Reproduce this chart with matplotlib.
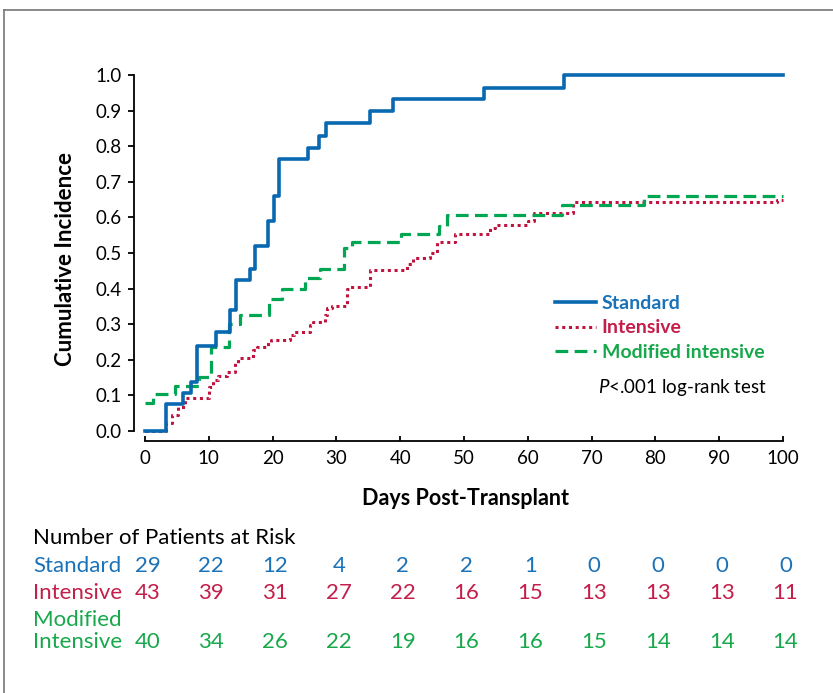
import matplotlib
matplotlib.use("Agg")
import matplotlib.pyplot as plt
from matplotlib.lines import Line2D
from matplotlib import transforms

plt.rcParams['font.family'] = ['Lato', 'DejaVu Sans']
plt.rcParams['mathtext.fontset'] = 'custom'
plt.rcParams['mathtext.it'] = 'Lato:italic'
plt.rcParams['mathtext.rm'] = 'Lato'

# ==========================
# Data
# ==========================
std_days = [0, 3.3, 6.0, 7.2, 8.2, 11.1, 13.4, 14.3, 16.4, 17.2, 19.3, 20.2, 21.0,
            25.6, 27.2, 28.4, 35.3, 38.8, 53.2, 65.6, 100]
std_vals = [0, 0.076, 0.107, 0.138, 0.24, 0.279, 0.34, 0.424, 0.455, 0.52, 0.59, 0.66, 0.763,
            0.794, 0.829, 0.864, 0.90, 0.933, 0.963, 1.0, 1.0]

int_days = [0, 3.3, 4.2, 5.2, 6.3, 10.0, 10.6, 11.5, 12.8, 14.1, 14.5, 17.0, 17.5, 19.3,
            19.7, 22.8, 23.3, 25.9, 26.4, 28.2, 28.6, 29.3, 31.6, 32.1, 35.3, 41.0, 42.0,
            44.7, 45.7, 48.6, 54.1, 54.9, 60.1, 60.9, 67.1, 99.0, 100]
int_vals = [0, 0.023, 0.045, 0.068, 0.094, 0.124, 0.143, 0.155, 0.167, 0.19, 0.204, 0.228,
            0.237, 0.251, 0.256, 0.27, 0.279, 0.298, 0.307, 0.326, 0.345, 0.351, 0.40, 0.404,
            0.452, 0.47, 0.485, 0.50, 0.532, 0.552, 0.569, 0.58, 0.59, 0.613, 0.644, 0.65, 0.65]

mod_days = [0, 1.3, 4.7, 8.4, 10.3, 13.1, 14.9, 19.4, 21.4, 25.1, 27.5, 31.2, 32.4, 40.1,
            46.1, 47.3, 65.3, 78.2, 100]
mod_vals = [0.078, 0.103, 0.126, 0.153, 0.237, 0.30, 0.326, 0.371, 0.398, 0.429, 0.455,
            0.514, 0.531, 0.553, 0.577, 0.607, 0.635, 0.66, 0.66]

risk_days = [0, 10, 20, 30, 40, 50, 60, 70, 80, 90, 100]
risk_std = [29, 22, 12, 4, 2, 2, 1, 0, 0, 0, 0]
risk_int = [43, 39, 31, 27, 22, 16, 15, 13, 13, 13, 11]
risk_mod = [40, 34, 26, 22, 19, 16, 16, 15, 14, 14, 14]

BLUE = "#0868b0"
RED = "#c0143e"
GREEN = "#00a651"
T_BLUE = "#1a72b8"
T_RED = "#c41e4a"
T_GREEN = "#17a84b"

W, H = 833, 693
fig = plt.figure(figsize=(W / 100, H / 100), dpi=100)
ax = fig.add_axes([145 / W, 1 - 431 / H, 638 / W, 356 / H])

# ==========================
# Curves
# ==========================
ax.step(int_days, int_vals, where="post", color=RED, lw=2.2,
        linestyle=(0, (1, 1.2)), dash_capstyle="butt", clip_on=False, label="Intensive")
ax.step(mod_days, mod_vals, where="post", color=GREEN, lw=2.3,
        linestyle=(0, (4, 2)), clip_on=False, label="Modified intensive")
ax.step(std_days, std_vals, where="post", color=BLUE, lw=2.6, clip_on=False,
        label="Standard")

ax.set_xlim(0, 100)
ax.set_ylim(0, 1.0)
ax.set_xticks(range(0, 101, 10))
ax.set_yticks([i / 10 for i in range(11)])
ax.set_yticklabels([f"{i / 10:.1f}" for i in range(11)])

for s in ["top", "right"]:
    ax.spines[s].set_visible(False)
ax.spines["left"].set_position(("outward", 8))
ax.spines["bottom"].set_position(("outward", 7))
ax.spines["left"].set_linewidth(1.3)
ax.spines["bottom"].set_linewidth(1.3)
ax.tick_params(axis="y", direction="out", length=4, width=1.3, pad=5, labelsize=13.5)
ax.tick_params(axis="x", direction="in", length=3.5, width=1.3, pad=7, labelsize=13.5)

ax.set_ylabel("Cumulative Incidence", fontsize=16, fontweight="bold")
ax.yaxis.set_label_coords(-0.108, 0.483)
ax.set_xlabel("Days Post-Transplant", fontsize=15.5, fontweight="bold")
ax.xaxis.set_label_coords(0.503, -0.16)

# ==========================
# Legend
# ==========================
h, l = ax.get_legend_handles_labels()
order = [2, 0, 1]
leg = ax.legend([h[i] for i in order], [l[i] for i in order],
                loc="upper left", bbox_to_anchor=(555 / W, 1 - 295 / H),
                bbox_transform=fig.transFigure, frameon=False,
                prop={"weight": "bold", "size": 14}, handlelength=2.1,
                handletextpad=0.3, labelspacing=0.38, borderpad=0, borderaxespad=0,
                labelcolor=[T_BLUE, T_RED, T_GREEN])
ax.text(598 / W, 1 - 387 / H, "$P$<.001 log-rank test", transform=fig.transFigure,
        fontsize=13.5, va="center", ha="left")

# ==========================
# Number at risk table
# ==========================
tr = transforms.blended_transform_factory(ax.transData, fig.transFigure)
fs = 16
fig.text(33 / W, 1 - 538 / H, "Number of Patients at Risk", fontsize=fs, va="center")
rows = [("Standard", risk_std, T_BLUE, 566),
        ("Intensive", risk_int, T_RED, 593),
        ("Modified\nIntensive", risk_mod, T_GREEN, 642)]
for name, vals, col, ypx in rows:
    if "\n" in name:
        fig.text(33 / W, 1 - 620 / H, "Modified", fontsize=fs, va="center", color=col)
        fig.text(33 / W, 1 - ypx / H, "Intensive", fontsize=fs, va="center", color=col)
    else:
        fig.text(33 / W, 1 - ypx / H, name, fontsize=fs, va="center", color=col)
    for d, v in zip(risk_days, vals):
        ax.text(d + 0.4, 1 - ypx / H, str(v), transform=tr, fontsize=fs,
                ha="center", va="center", color=col)

# outer frame
fig.add_artist(Line2D([4 / W, 1], [1 - 10 / H, 1 - 10 / H], transform=fig.transFigure,
                      color="#777777", lw=1.2))
fig.add_artist(Line2D([4 / W, 4 / W], [0, 1 - 10 / H], transform=fig.transFigure,
                      color="#777777", lw=1.2))

fig.savefig("out.png", dpi=100)
